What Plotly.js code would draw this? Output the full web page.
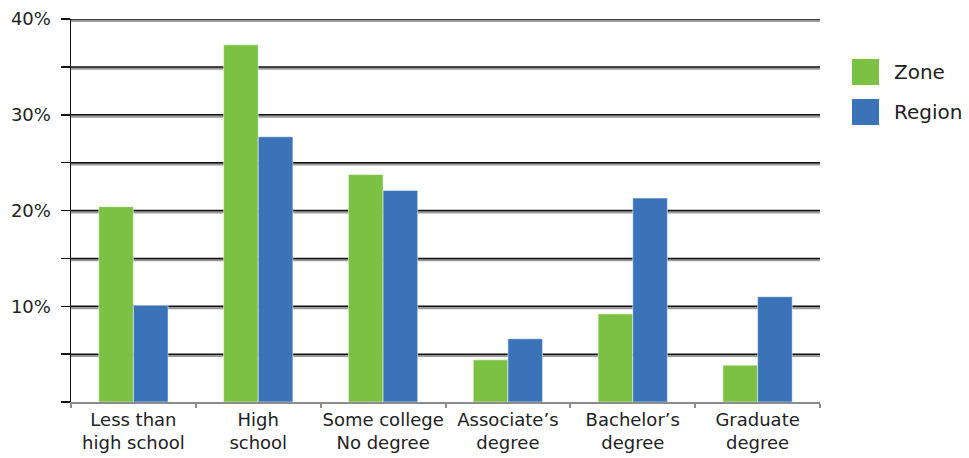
<!DOCTYPE html>
<html>
<head>
<meta charset="utf-8">
<script src="https://cdn.plot.ly/plotly-3.0.1.min.js"></script>
<style>html,body{margin:0;padding:0;background:#fff;}#chart{width:969px;height:458px;}</style>
</head>
<body>
<div id="chart"></div>
<script>
var categories = ["Less than<br>high school", "High<br>school", "Some college<br>No degree", "Associate’s<br>degree", "Bachelor’s<br>degree", "Graduate<br>degree"];
var zoneValues = [20.4, 37.3, 23.75, 4.4, 9.2, 3.85];
var regionValues = [10.1, 27.7, 22.1, 6.6, 21.3, 11.0];
var seriesNames = ["Zone", "Region"];
var seriesColors = ["#7BC143", "#3A73B8"];
var yTickVals = [0, 5, 10, 15, 20, 25, 30, 35, 40];
var yTickText = ["", "", "10%", "", "20%", "", "30%", "", "40%"];

var FONT = "DejaVu Sans, Open Sans, sans-serif";

var traces = [
  {type: "bar", x: categories, y: zoneValues, name: seriesNames[0],
   marker: {color: seriesColors[0], line: {color: "rgba(255,255,255,0.5)", width: 1}}, showlegend: false, hoverinfo: "y"},
  {type: "bar", x: categories, y: regionValues, name: seriesNames[1],
   marker: {color: seriesColors[1], line: {color: "rgba(255,255,255,0.5)", width: 1}}, showlegend: false, hoverinfo: "y"}
];

var shapes = [];
yTickVals.forEach(function (v) {
  if (v > 0) {
    shapes.push({type: "line", xref: "paper", yref: "y", x0: 0, x1: 1, y0: v - 0.17, y1: v - 0.17,
      line: {color: "#9a9a9a", width: 2.5}, layer: "below"});
  }
});
yTickVals.forEach(function (v) {
  if (v > 0) {
    shapes.push({type: "line", xref: "paper", yref: "y", x0: 0, x1: 1, y0: v, y1: v,
      line: {color: "#111", width: 1.5}, layer: "below"});
  }
});
// custom legend
var legY = [[0.8277, 0.8956], [0.7232, 0.7911]];
var annotations = [];
seriesNames.forEach(function (n, i) {
  shapes.push({type: "rect", xref: "paper", yref: "paper", x0: 1.0427, x1: 1.0788,
    y0: legY[i][0], y1: legY[i][1], fillcolor: seriesColors[i], line: {width: 0}});
  annotations.push({xref: "paper", yref: "paper", x: 1.0961, y: (legY[i][0] + legY[i][1]) / 2,
    xanchor: "left", yanchor: "middle", text: n, showarrow: false,
    font: {family: FONT, size: 20, color: "#222"}});
});

var layout = {
  width: 969, height: 458,
  margin: {l: 71, r: 149, t: 19, b: 56, pad: 0},
  paper_bgcolor: "#fff", plot_bgcolor: "#fff",
  barmode: "group", bargap: 0.445, bargroupgap: 0,
  showlegend: false,
  font: {family: FONT, color: "#222"},
  xaxis: {
    type: "category", showgrid: false, showline: true, linecolor: "#8c8c8c", linewidth: 2,
    ticks: "outside", tickson: "boundaries", ticklen: 4, tickcolor: "#8c8c8c", tickwidth: 2,
    tickangle: 0,
    tickfont: {family: FONT, size: 18, color: "#222"}, zeroline: false, fixedrange: true
  },
  yaxis: {
    range: [0, 40], tickmode: "array", tickvals: yTickVals, ticktext: yTickText,
    showgrid: false, zeroline: false,
    showline: true, linecolor: "#111", linewidth: 1.5,
    ticks: "outside", ticklen: 9, tickcolor: "#111", tickwidth: 1.5,
    ticklabelstandoff: 6,
    tickfont: {family: FONT, size: 18, color: "#222"}, fixedrange: true
  },
  shapes: shapes,
  annotations: annotations
};

Plotly.newPlot("chart", traces, layout, {displayModeBar: false, staticPlot: true});
</script>
</body>
</html>
